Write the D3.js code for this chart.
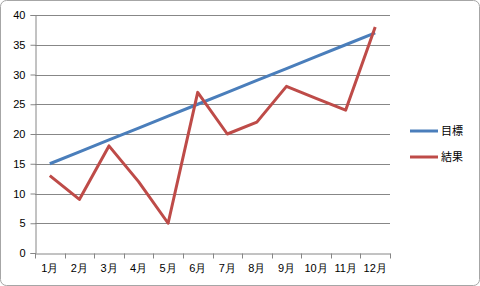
<!DOCTYPE html>
<html>
<head>
<meta charset="utf-8">
<script src="https://cdn.jsdelivr.net/npm/d3@7"></script>
<style>
  body { margin: 0; background: #fff; }
  svg { display: block; font-family: "Noto Sans CJK JP", "DejaVu Sans", sans-serif; }
</style>
</head>
<body>
<div id="chart"></div>
<script>
// データ
const months = ["1月", "2月", "3月", "4月", "5月", "6月", "7月", "8月", "9月", "10月", "11月", "12月"];
const target = [15, 17, 19, 21, 23, 25, 27, 29, 31, 33, 35, 37];
const result = [13, 9, 18, 12, 5, 27, 20, 22, 28, 26, 24, 38];
const yTicks = [0, 5, 10, 15, 20, 25, 30, 35, 40];
const seriesNames = ["目標", "結果"];
const colors = ["#4a7ebb", "#be4b48"];

const width = 480, height = 286;
const plot = { left: 35, right: 390, top: 15, bottom: 253 };

const svg = d3.select("#chart").append("svg")
  .attr("width", width)
  .attr("height", height);

// 外枠
svg.append("rect")
  .attr("x", 0.5).attr("y", 0.5)
  .attr("width", width - 1).attr("height", height - 1)
  .attr("rx", 6)
  .attr("fill", "#fff")
  .attr("stroke", "#a6a6a6");

const x = d3.scaleBand().domain(months).range([plot.left, plot.right]);
const y = d3.scaleLinear().domain([0, 40]).range([plot.bottom, plot.top]);

// グリッド線
svg.append("g")
  .selectAll("line")
  .data(yTicks.filter(d => d > 0))
  .enter().append("line")
  .attr("x1", plot.left).attr("x2", plot.right)
  .attr("y1", d => Math.round(y(d)) + 0.5)
  .attr("y2", d => Math.round(y(d)) + 0.5)
  .attr("stroke", "#878787");

// Y軸
const yAxis = svg.append("g")
  .attr("transform", `translate(${plot.left + 0.5},0)`)
  .call(d3.axisLeft(y).tickValues(yTicks).tickSize(5).tickPadding(5));
yAxis.select(".domain").attr("stroke", "#868686");
yAxis.selectAll(".tick line").attr("stroke", "#868686");
yAxis.selectAll("text").attr("font-size", 11).attr("fill", "#000");

// X軸
const xAxis = svg.append("g")
  .attr("transform", `translate(0,${plot.bottom + 0.5})`)
  .call(d3.axisBottom(x).tickSize(0).tickPadding(11));
xAxis.select(".domain").attr("stroke", "#868686");
xAxis.selectAll("text").attr("font-size", 11).attr("fill", "#000");
xAxis.selectAll("line.bnd")
  .data(months.concat([null]))
  .enter().append("line")
  .attr("class", "bnd")
  .attr("x1", (d, i) => Math.round(plot.left + i * x.step()) + 0.5)
  .attr("x2", (d, i) => Math.round(plot.left + i * x.step()) + 0.5)
  .attr("y1", 0).attr("y2", 5)
  .attr("stroke", "#868686");

// 折れ線
const line = d3.line()
  .x((d, i) => x(months[i]) + x.bandwidth() / 2)
  .y(d => y(d));

[target, result].forEach((s, i) => {
  svg.append("path")
    .datum(s)
    .attr("d", line)
    .attr("fill", "none")
    .attr("stroke", colors[i])
    .attr("stroke-width", 3)
    .attr("stroke-linejoin", "round");
});

// 凡例
const legend = svg.append("g");
seriesNames.forEach((name, i) => {
  const ly = 131 + i * 26;
  legend.append("line")
    .attr("x1", 410).attr("x2", 438)
    .attr("y1", ly).attr("y2", ly)
    .attr("stroke", colors[i])
    .attr("stroke-width", 3);
  legend.append("text")
    .attr("x", 441).attr("y", ly + 4)
    .attr("font-size", 11)
    .text(name);
});
</script>
</body>
</html>
